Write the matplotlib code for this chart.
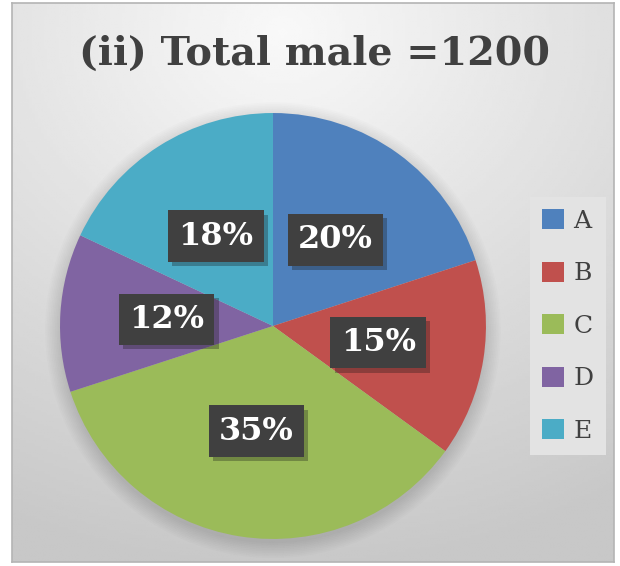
import numpy as np
import matplotlib.pyplot as plt
import matplotlib.patheffects as pe
from matplotlib.patches import Circle, Patch

categories = ["A", "B", "C", "D", "E"]
shares = [20, 15, 35, 12, 18]
colors = ["#4F81BD", "#C0504D", "#9BBB59", "#8064A2", "#4BACC6"]
title = "(ii) Total male =1200"

fig = plt.figure(figsize=(6.2, 5.66), dpi=100)
fig.patch.set_facecolor("white")

# chart area background with soft gradient
bg = fig.add_axes([12 / 620, 4 / 566, 602 / 620, 559 / 566])
yy, xx = np.mgrid[0:1:200j, 0:1:200j]
dist = np.sqrt(((xx - 0.45) * 1.0) ** 2 + ((yy - 0.05) * 1.1) ** 2)
shade = 0.975 - 0.19 * np.clip(dist, 0, 1.05) / 1.05
bg.imshow(shade, cmap="gray", vmin=0, vmax=1, extent=[0, 1, 1, 0], aspect="auto")
bg.set_xticks([])
bg.set_yticks([])
for s in bg.spines.values():
    s.set_color("#b4b4b4")
    s.set_linewidth(1.2)

ax = fig.add_axes([0.0968, 0.0477, 0.687, 0.7527])
ax.set_facecolor("none")

# soft shadow around the pie
for r in np.linspace(1.0, 1.07, 10):
    ax.add_patch(Circle((0, -0.02), r, facecolor="black", alpha=0.011,
                        edgecolor="none", clip_on=False))

wedges, texts = ax.pie(shares, colors=colors, startangle=90, counterclock=False,
                       radius=1, wedgeprops=dict(linewidth=0))
for w, v in zip(wedges, shares):
    ang = np.deg2rad((w.theta1 + w.theta2) / 2)
    ax.text(0.5 * np.cos(ang), 0.5 * np.sin(ang), f"{v}%",
            ha="center", va="center", color="white", fontsize=23,
            fontweight="bold", family=["DejaVu Serif"],
            bbox=dict(boxstyle="square,pad=0.32", facecolor="#404040",
                      edgecolor="none",
                      path_effects=[pe.SimplePatchShadow(offset=(3, -3), alpha=0.3),
                                    pe.Normal()]))
ax.set_xlim(-1, 1)
ax.set_ylim(-1, 1)
ax.axis("off")

fig.text(0.508, 0.905, title, ha="center", va="center", fontsize=28.5,
         fontweight="bold", color="#404040", family=["DejaVu Serif"])

handles = [Patch(facecolor=c, edgecolor="none") for c in colors]
leg = fig.legend(handles, categories, loc="center", bbox_to_anchor=(568 / 620, 1 - 326 / 566),
                 frameon=True, fancybox=False, handlelength=0.85,
                 handleheight=0.85, handletextpad=0.4, labelspacing=1.15,
                 borderpad=0.5, prop={"family": "DejaVu Serif", "size": 18})
leg.get_frame().set_facecolor("#e3e3e3")
leg.get_frame().set_edgecolor("none")
leg.get_frame().set_alpha(1)
for t in leg.get_texts():
    t.set_color("#404040")

fig.savefig("out.png", dpi=100)
